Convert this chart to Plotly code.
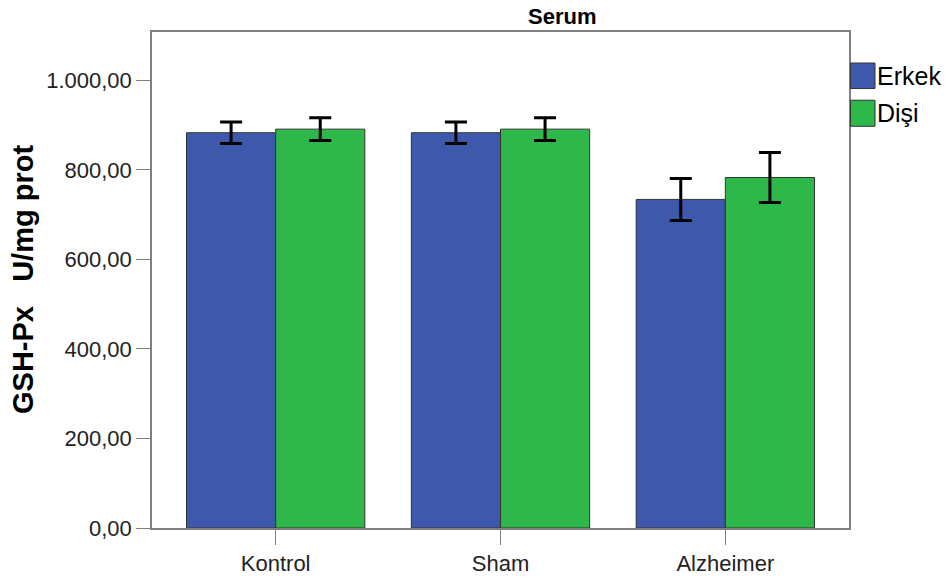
import plotly.graph_objects as go

categories = ["Kontrol", "Sham", "Alzheimer"]
erkek = [883, 883, 734]
disi = [891, 891, 783]
erkek_err = [24, 24, 47]
disi_err = [25.5, 25.5, 56]
series_names = ["Erkek", "Dişi"]
colors = ["#3E58AC", "#2EB84A"]
y_ticks = [0, 200, 400, 600, 800, 1000]

FONT = "Arial, Liberation Sans, sans-serif"

fig = go.Figure()
for name, vals, errs, col in zip(series_names, [erkek, disi], [erkek_err, disi_err], colors):
    fig.add_trace(go.Bar(
        name=name, x=categories, y=vals,
        marker=dict(color=col, line=dict(color="#333333", width=1)),
        error_y=dict(type="data", array=errs, visible=True, color="black",
                     thickness=3, width=11),
        showlegend=False,
    ))

axis_common = dict(showline=True, linecolor="#808080", linewidth=1.5, mirror=True,
                   ticks="outside", tickcolor="#808080", showgrid=False, zeroline=False,
                   automargin=False,
                   tickfont=dict(family=FONT, size=22, color="#222222"))

fig.update_layout(
    width=950, height=578,
    margin=dict(l=152, r=101, t=32, b=50),
    paper_bgcolor="white", plot_bgcolor="white",
    barmode="group", bargap=0.207, bargroupgap=0,
    separators=",.",
    xaxis=dict(range=[-0.55, 2.55], ticklen=15, **axis_common),
    yaxis=dict(range=[0, 1108], tickvals=y_ticks, tickformat=",.2f", ticklen=14, **axis_common),
)

# Title
fig.add_annotation(text="<b>Serum</b>", xref="paper", yref="paper", x=0.588, y=1,
                   yshift=16, xanchor="center", yanchor="middle", showarrow=False,
                   font=dict(family=FONT, size=22, color="black"))
# Y axis title
fig.add_annotation(text="<b>GSH-Px\u00a0\u00a0\u00a0U/mg prot</b>", xref="paper", yref="paper",
                   x=0, y=0.5, xshift=-129, xanchor="center", yanchor="middle",
                   textangle=-90, showarrow=False,
                   font=dict(family=FONT, size=29, color="black"))

# Legend drawn manually
leg_y = [(0.9375, 0.886), (0.8624, 0.8099)]
for (ytop, ybot), name, col in zip(leg_y, series_names, colors):
    fig.add_shape(type="rect", xref="paper", yref="paper", x0=1.0022, x1=1.0373,
                  y0=ybot, y1=ytop, fillcolor=col, line=dict(color="#333333", width=1))
    fig.add_annotation(text=name, xref="paper", yref="paper", x=1.0373, y=(ytop + ybot) / 2,
                       xanchor="left", yanchor="middle", showarrow=False,
                       font=dict(family=FONT, size=25, color="black"))

fig.write_html("out.html", config={"displayModeBar": False},
               post_script="document.body.style.margin='0';")
